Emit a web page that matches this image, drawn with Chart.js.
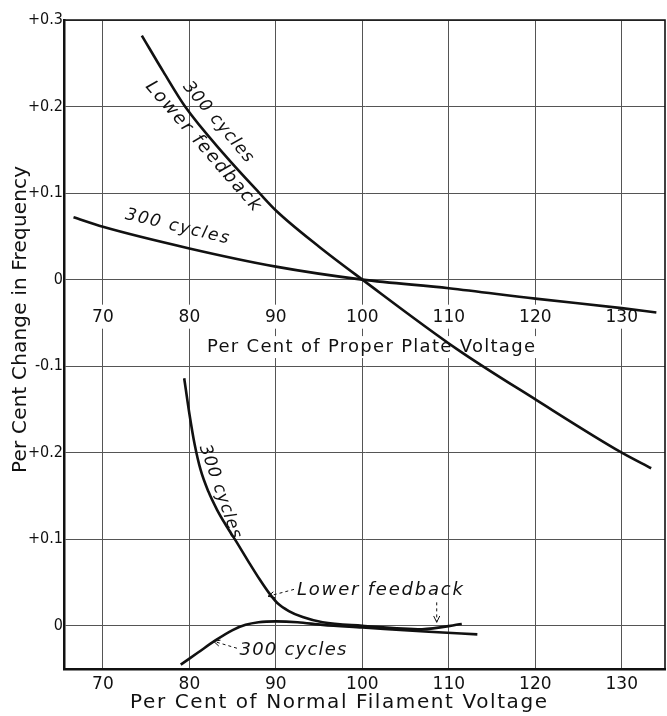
<!DOCTYPE html>
<html><head><meta charset="utf-8">
<script src="https://cdn.jsdelivr.net/npm/chart.js@4.4.1/dist/chart.umd.min.js"></script>
<style>html,body{margin:0;padding:0;background:#fff}canvas{display:block}</style>
</head><body>
<canvas id="c" width="667" height="716"></canvas>
<script>
// ---- Upper panel: Per Cent of Proper Plate Voltage ----
const plateVoltageLowFb = [74.5, 77, 79.5, 84, 88.1, 90.1, 95, 100, 110.9, 120.1, 130, 133.4];
const freqChangeLowFb   = [0.282, 0.24, 0.2, 0.145, 0.1, 0.079, 0.038, 0, -0.080, -0.139, -0.2, -0.218];
const plateVoltage300   = [66.6, 70, 80, 90, 100, 110, 120, 130, 134];
const freqChange300     = [0.072, 0.061, 0.036, 0.015, 0, -0.010, -0.022, -0.033, -0.038];
// ---- Lower panel: Per Cent of Normal Filament Voltage (values read on the lower panel's own scale) ----
const filVoltageLowFb = [79.4, 80.0, 80.6, 81.3, 82.2, 83.2, 84.3, 85.5, 86.9, 88.1, 89.2, 90.2, 91.5, 93.1, 95.4, 100, 106.9, 111.5];
const filFreqLowFb    = [0.286, 0.245, 0.21, 0.18, 0.155, 0.134, 0.115, 0.096, 0.073, 0.054, 0.038, 0.026, 0.017, 0.010, 0.004, 0.000, -0.004, 0.002];
const filVoltage300   = [79.0, 81.0, 83.0, 85.0, 86.5, 88.0, 90.0, 92.5, 95.4, 100, 107.7, 113.3];
const filFreq300      = [-0.045, -0.031, -0.017, -0.005, 0.001, 0.004, 0.005, 0.004, 0.001, -0.002, -0.007, -0.010];
// ---- Axes ----
const xTicks      = [70, 80, 90, 100, 110, 120, 130];
const xTickLabels = ['70', '80', '90', '100', '110', '120', '130'];
const yTicks      = [-0.4, -0.3, -0.2, -0.1, 0, 0.1, 0.2, 0.3];
const yTickLabels = ['0', '+0.1', '+0.2', '-0.1', '0', '+0.1', '+0.2', '+0.3'];
const LOWER_PANEL_ZERO = -0.4; // the lower panel's "0" line sits at -0.4 of the shared scale

const INK = '#111';
const pts = (xs, ys, off) => xs.map((x, i) => ({x, y: ys[i] + (off || 0)}));

function fitText(ctx, text, x, y, angle, target, font) {
  ctx.save();
  ctx.font = font;
  ctx.letterSpacing = '0px';
  const w = ctx.measureText(text).width;
  const ls = (target - w) / Math.max(1, text.length - 1);
  ctx.letterSpacing = ls + 'px';
  ctx.translate(x, y);
  ctx.rotate(angle);
  ctx.textAlign = 'left';
  ctx.textBaseline = 'middle';
  ctx.fillStyle = INK;
  ctx.fillText(text, -target / 2, 0);
  ctx.restore();
}
function arrow(ctx, x1, y1, x2, y2) {
  ctx.save();
  ctx.strokeStyle = INK; ctx.lineWidth = 1;
  ctx.setLineDash([3, 3]);
  ctx.beginPath(); ctx.moveTo(x1, y1); ctx.lineTo(x2, y2); ctx.stroke();
  ctx.setLineDash([]);
  const a = Math.atan2(y2 - y1, x2 - x1), L = 7;
  ctx.beginPath();
  ctx.moveTo(x2 - L * Math.cos(a - 0.45), y2 - L * Math.sin(a - 0.45));
  ctx.lineTo(x2, y2);
  ctx.lineTo(x2 - L * Math.cos(a + 0.45), y2 - L * Math.sin(a + 0.45));
  ctx.stroke();
  ctx.restore();
}
const deg = d => d * Math.PI / 180;

const annot = {
  id: 'annot',
  beforeDatasetsDraw(chart) {
    const ctx = chart.ctx, xs = chart.scales.x, ys = chart.scales.y;
    ctx.save();
    ctx.fillStyle = '#fff';
    const yl = ys.getPixelForValue(-0.044);
    xTicks.forEach(v => ctx.fillRect(xs.getPixelForValue(v) - 17, yl - 13, 34, 24));
    const yt = ys.getPixelForValue(-0.078);
    const xt = xs.getPixelForValue(101.0);
    ctx.fillRect(xt - 168, yt - 11, 336, 22);
    ctx.restore();
  },
  afterDatasetsDraw(chart) {
    const ctx = chart.ctx, xs = chart.scales.x, ys = chart.scales.y, ca = chart.chartArea;
    const P = (X, u) => [xs.getPixelForValue(X), ys.getPixelForValue(u)];
    // top & right frame
    ctx.save();
    ctx.strokeStyle = INK; ctx.lineWidth = 1.6;
    ctx.beginPath(); ctx.moveTo(ca.left, ca.top); ctx.lineTo(ca.right, ca.top); ctx.lineTo(ca.right, ca.bottom); ctx.stroke();
    ctx.restore();
    // upper panel x-axis labels and title
    ctx.save();
    ctx.font = "17px 'DejaVu Sans'"; ctx.fillStyle = INK; ctx.textAlign = 'center'; ctx.textBaseline = 'middle';
    const yl = ys.getPixelForValue(-0.044);
    xTicks.forEach((v, i) => ctx.fillText(xTickLabels[i], xs.getPixelForValue(v), yl));
    ctx.restore();
    let p = P(101.0, -0.078);
    fitText(ctx, 'Per Cent of Proper Plate Voltage', p[0], p[1], 0, 328, "18px 'DejaVu Sans'");
    // curve labels
    const it = "italic 17px 'DejaVu Sans'";
    p = P(83.31, 0.182); fitText(ctx, '300 cycles', p[0], p[1], deg(50), 100, it);
    p = P(81.57, 0.154); fitText(ctx, 'Lower feedback', p[0], p[1], deg(49), 166, "italic 18px 'DejaVu Sans'");
    p = P(78.57, 0.061); fitText(ctx, '300 cycles', p[0], p[1], deg(13.5), 106, it);
    p = P(83.54, -0.245); fitText(ctx, '300 cycles', p[0], p[1], deg(70.6), 98, it);
    p = P(102.04, -0.359); fitText(ctx, 'Lower feedback', p[0], p[1], 0, 166, "italic 18px 'DejaVu Sans'");
    p = P(91.98, -0.429); fitText(ctx, '300 cycles', p[0], p[1], 0, 107, "italic 18px 'DejaVu Sans'");
    // dashed arrows
    let a = P(92.1, -0.358), b = P(89.1, -0.366); arrow(ctx, a[0], a[1], b[0], b[1]);
    a = P(108.6, -0.373); b = P(108.6, -0.396); arrow(ctx, a[0], a[1], b[0], b[1]);
    a = P(85.5, -0.426); b = P(82.8, -0.418); arrow(ctx, a[0], a[1], b[0], b[1]);
    // axis titles
    fitText(ctx, 'Per Cent of Normal Filament Voltage', xs.getPixelForValue(97.25), ca.bottom + 34, 0, 417, "20px 'DejaVu Sans'");
    fitText(ctx, 'Per Cent Change in Frequency', 21, ys.getPixelForValue(-0.046), -Math.PI / 2, 307, "20px 'DejaVu Sans'");
  }
};

const lineStyle = {borderColor: INK, borderWidth: 2.6, pointRadius: 0, fill: false, cubicInterpolationMode: 'monotone'};

new Chart(document.getElementById('c'), {
  type: 'line',
  data: {
    datasets: [
      Object.assign({label: 'Plate voltage – 300 cycles, lower feedback', data: pts(plateVoltageLowFb, freqChangeLowFb)}, lineStyle),
      Object.assign({label: 'Plate voltage – 300 cycles', data: pts(plateVoltage300, freqChange300)}, lineStyle),
      Object.assign({label: 'Filament voltage – 300 cycles, lower feedback', data: pts(filVoltageLowFb, filFreqLowFb, LOWER_PANEL_ZERO)}, lineStyle),
      Object.assign({label: 'Filament voltage – 300 cycles', data: pts(filVoltage300, filFreq300, LOWER_PANEL_ZERO)}, lineStyle)
    ]
  },
  options: {
    responsive: false,
    animation: false,
    devicePixelRatio: 1,
    layout: {padding: {top: 20, right: 2, left: 0, bottom: 0}},
    plugins: {legend: {display: false}, tooltip: {enabled: false}},
    scales: {
      x: {
        type: 'linear', min: 65.5, max: 135,
        afterBuildTicks: s => { s.ticks = xTicks.map(v => ({value: v})); },
        afterFit: s => { s.height = 47; },
        grid: {color: '#555', lineWidth: 1, drawTicks: false},
        border: {color: INK, width: 2.5},
        ticks: {padding: 5, color: INK, font: {family: 'DejaVu Sans', size: 17},
                callback: (v, i) => xTickLabels[i]}
      },
      y: {
        type: 'linear', min: -0.45, max: 0.3,
        afterBuildTicks: s => { s.ticks = yTicks.map(v => ({value: v})); },
        afterFit: s => { s.width = 64; },
        grid: {color: '#555', lineWidth: 1, drawTicks: false},
        border: {color: INK, width: 2.5},
        ticks: {padding: 1, color: INK, font: {family: "'Liberation Sans Narrow', 'DejaVu Sans Condensed', 'Liberation Sans'", size: 16},
                callback: (v, i) => yTickLabels[i]}
      }
    }
  },
  plugins: [annot]
});
</script>
</body></html>
